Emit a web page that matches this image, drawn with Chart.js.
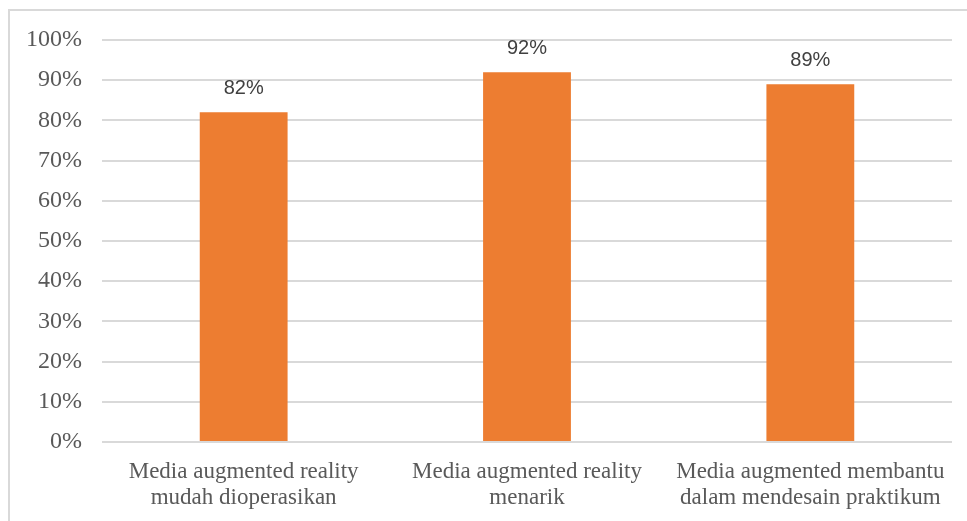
<!DOCTYPE html>
<html lang="id">
<head>
  <meta charset="UTF-8">
  <title>Bar chart</title>
  <style>
    html, body {
      margin: 0;
      padding: 0;
      background: #fff;
      overflow: hidden;
    }
    #wrap {
      position: relative;
      width: 967px;
      height: 521px;
    }
    #frame {
      position: absolute;
      left: 8px;
      top: 9px;
      width: 970px;
      height: 530px;
      border-top: 2px solid #d9d9d9;
      border-left: 2px solid #d9d9d9;
      box-sizing: border-box;
    }
    canvas {
      position: absolute;
      left: 0;
      top: 0;
    }
  </style>
</head>
<body>
  <div id="wrap">
    <div id="frame"></div>
    <canvas id="chart" width="967" height="521"></canvas>
  </div>

  <script src="https://cdn.jsdelivr.net/npm/chart.js"></script>
  <script>
    const categories = [
      ['Media augmented reality', 'mudah dioperasikan'],
      ['Media augmented reality', 'menarik'],
      ['Media augmented membantu', 'dalam mendesain praktikum']
    ];
    const values = [82, 92, 89];
    const yTicks = [0, 10, 20, 30, 40, 50, 60, 70, 80, 90, 100];

    // labels above the bars
    const barLabels = {
      id: 'barLabels',
      afterDatasetsDraw(chart) {
        const ctx = chart.ctx;
        const meta = chart.getDatasetMeta(0);
        ctx.save();
        ctx.font = '20px "Liberation Sans", Arial, sans-serif';
        ctx.fillStyle = '#404040';
        ctx.textAlign = 'center';
        ctx.textBaseline = 'middle';
        meta.data.forEach((bar, i) => {
          ctx.fillText(values[i] + '%', bar.x, bar.y - 24);
        });
        ctx.restore();
      }
    };

    new Chart(document.getElementById('chart'), {
      type: 'bar',
      data: {
        labels: categories,
        datasets: [{
          data: values,
          backgroundColor: '#ed7d31',
          barPercentage: 0.31,
          categoryPercentage: 1
        }]
      },
      options: {
        responsive: false,
        animation: false,
        layout: {
          padding: { top: 40, right: 15, left: 0, bottom: 0 }
        },
        plugins: {
          legend: { display: false },
          tooltip: { enabled: false }
        },
        scales: {
          x: {
            grid: { display: false, drawTicks: false },
            border: { display: false },
            ticks: {
              color: '#595959',
              padding: 17,
              maxRotation: 0,
              font: { family: '"Liberation Serif", "Times New Roman", serif', size: 23, lineHeight: 1.13 }
            },
            afterFit(scale) { scale.height = 79; }
          },
          y: {
            min: 0,
            max: 100,
            afterBuildTicks(scale) {
              scale.ticks = yTicks.map(v => ({ value: v }));
            },
            grid: { color: '#d9d9d9', lineWidth: 2, drawTicks: false },
            border: { display: false },
            ticks: {
              color: '#595959',
              padding: 20,
              font: { family: '"Liberation Serif", "Times New Roman", serif', size: 24 },
              callback: v => v + '%'
            },
            afterFit(scale) { scale.width = 102; }
          }
        }
      },
      plugins: [barLabels]
    });
  </script>
</body>
</html>
